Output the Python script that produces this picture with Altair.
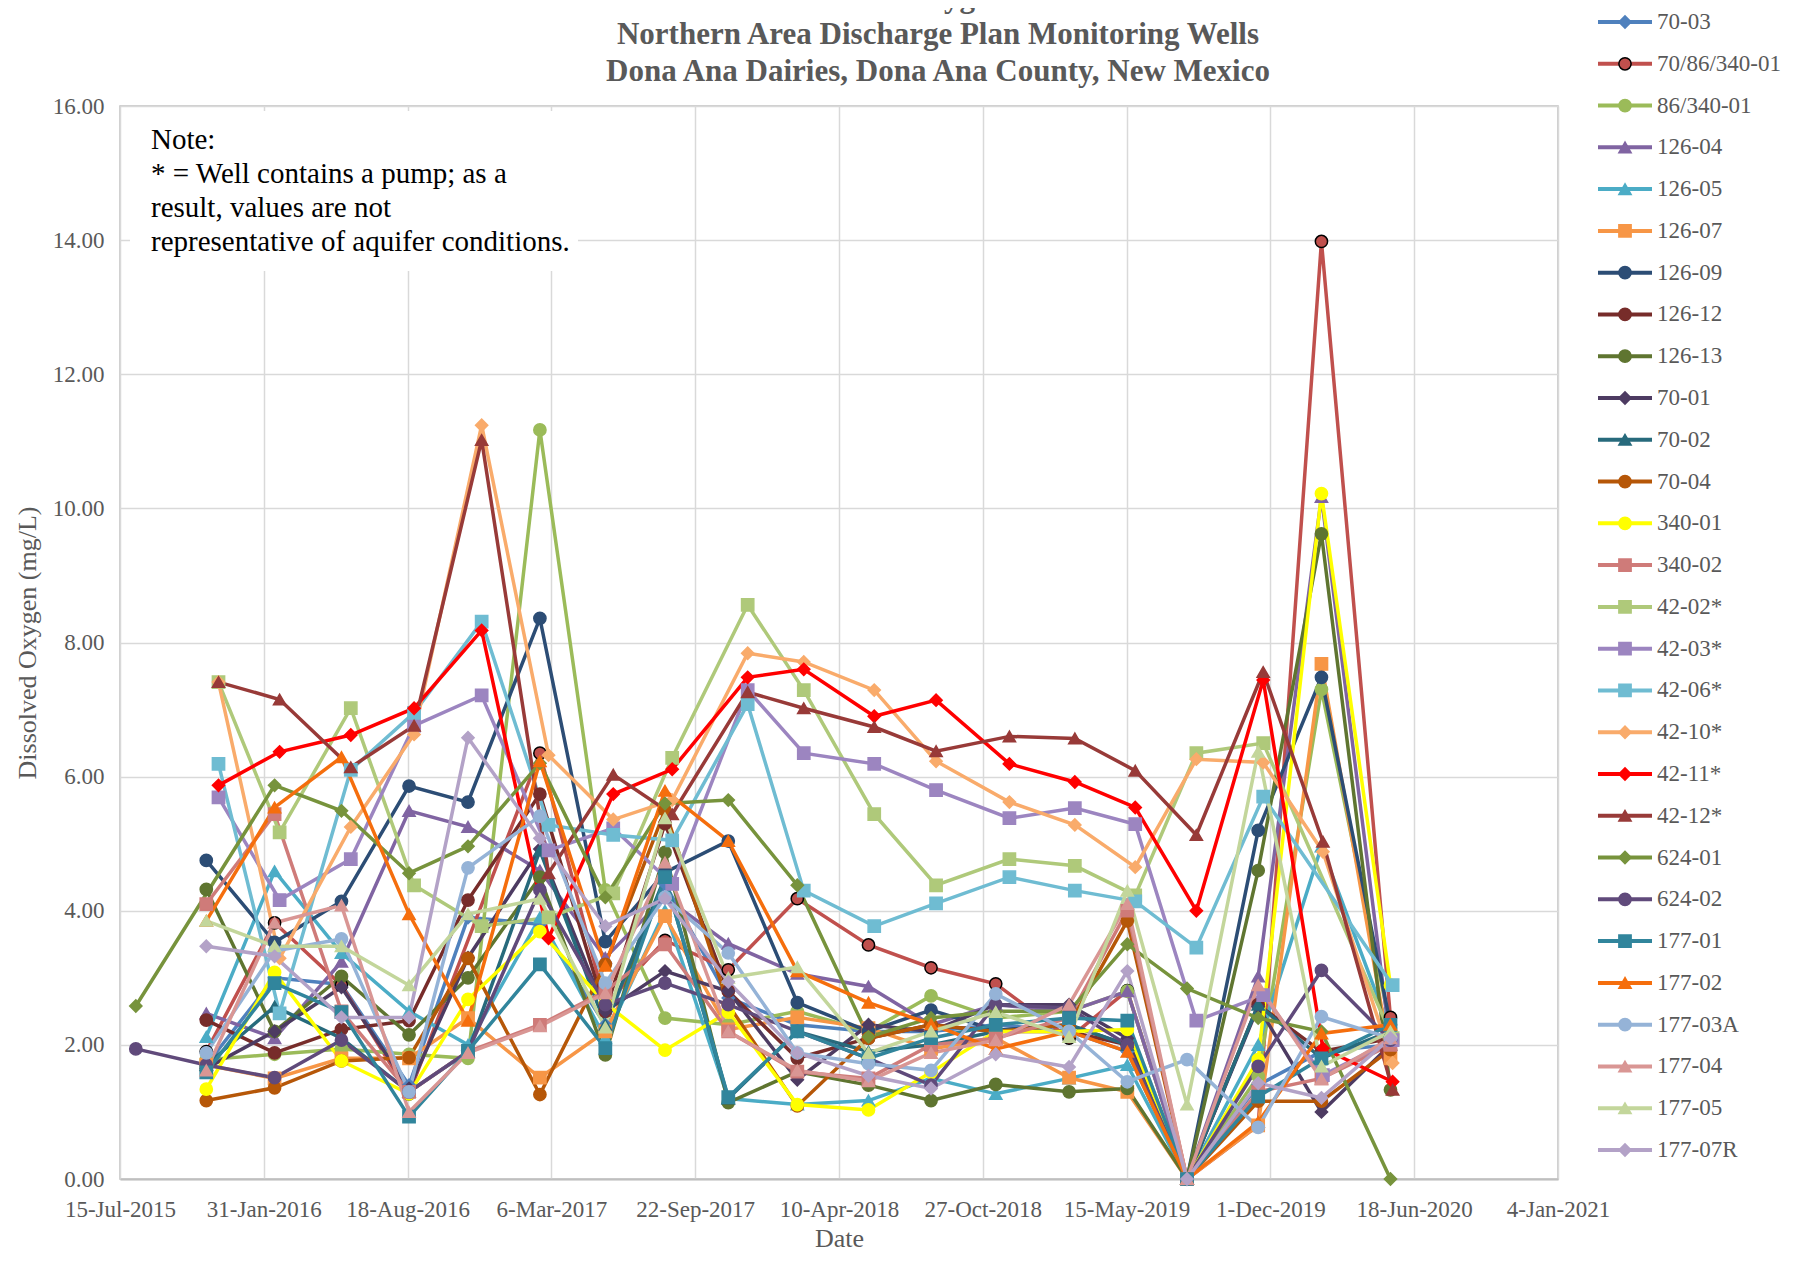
import altair as alt
import pandas as pd

# ---- series names, colours, marker shapes (legend order) ----
names = ["70-03", "70/86/340-01", "86/340-01", "126-04", "126-05", "126-07", "126-09",
         "126-12", "126-13", "70-01", "70-02", "70-04", "340-01", "340-02", "42-02*",
         "42-03*", "42-06*", "42-10*", "42-11*", "42-12*", "624-01", "624-02", "177-01",
         "177-02", "177-03A", "177-04", "177-05", "177-07R"]
colors = ["#4F81BD", "#C0504D", "#9BBB59", "#8064A2", "#4BACC6", "#F79646", "#2C4D75",
          "#772C2A", "#5F7530", "#4D3B62", "#276A7C", "#B65708", "#FFFF00", "#CF7B79", "#AFC97A",
          "#9C85C0", "#6FBCD2", "#F9AB6B", "#FF0000", "#983A38", "#77933C", "#604A7B", "#31859C",
          "#F56E0D", "#95B3D7", "#D99694", "#C3D69B", "#B3A2C7"]
shapes = ["diamond", "circle", "circle", "triangle-up", "triangle-up", "square", "circle",
          "circle", "circle", "diamond", "triangle-up", "circle", "circle", "square", "square",
          "square", "square", "diamond", "diamond", "triangle-up", "diamond", "circle", "square",
          "triangle-up", "circle", "triangle-up", "triangle-up", "diamond"]

# ---- sampling dates ----
dates_std = ["2015-08-06", "2015-11-12", "2016-02-15", "2016-05-18", "2016-08-20", "2016-11-10",
             "2017-02-18", "2017-05-20", "2017-08-11", "2017-11-07", "2018-02-11", "2018-05-21",
             "2018-08-16", "2018-11-14", "2019-02-24", "2019-05-16", "2019-08-07", "2019-11-14",
             "2020-02-10", "2020-05-16"]
dates_pump = ["2015-08-06", "2015-11-29", "2016-02-22", "2016-05-31", "2016-08-27", "2016-11-29",
              "2017-03-02", "2017-05-31", "2017-08-21", "2017-12-04", "2018-02-20", "2018-05-29",
              "2018-08-23", "2018-12-03", "2019-03-04", "2019-05-27", "2019-08-20", "2019-11-21",
              "2020-02-12", "2020-05-19"]

# ---- dissolved oxygen values (mg/L) per well ----
s_70_03 = [None, 1.7, 3.0, 2.9, 1.4, 3.9, 3.8, 2.3, 4.4, 2.7, 2.3, 2.2, 2.2, 2.3, 2.2, 1.9, 0.0, 1.4, 1.9, 2.0]
s_70_86_340_01 = [None, 1.9, 3.82, 2.89, 1.27, None, 6.35, 2.6, 3.56, 3.12, 4.18, 3.49, 3.15, 2.91, 2.1, 2.81, 0.0, 0.8, 13.98, 2.41]
s_86_340_01 = [None, 1.78, 1.86, 1.94, 1.86, 1.8, 11.17, 4.31, 2.4, 2.3, 2.5, 2.2, 2.73, 2.4, 2.5, 2.8, 0.0, 1.53, 7.3, 2.25]
s_126_04 = [None, 2.47, 2.1, 3.24, 5.49, 5.25, 4.6, 3.3, 4.2, 3.51, 3.06, 2.87, 2.3, 2.6, 2.5, 2.8, 0.0, 3.02, 10.17, 2.0]
s_126_05 = [None, 2.12, 4.59, 3.37, 2.5, 2.0, 3.9, 2.1, 4.0, 1.2, 1.11, 1.17, 1.5, 1.27, 1.5, 1.7, 0.0, 2.0, 4.96, 2.2]
s_126_07 = [None, 1.7, 1.5, 1.8, 1.8, 2.4, 1.51, 2.2, 3.92, 2.23, 2.41, 2.25, 1.94, 2.1, 1.51, 1.3, 0.0, 0.8, 7.68, 1.8]
s_126_09 = [None, 4.75, 3.53, 4.14, 5.86, 5.62, 8.36, 3.54, 4.57, 5.04, 2.63, 2.2, 2.52, 2.22, 2.3, 2.0, 0.0, 5.2, 7.48, 2.3]
s_126_12 = [None, 2.37, 1.88, 2.23, 2.36, 4.16, 5.74, 2.5, 5.3, 2.8, 1.8, 2.1, 2.3, 2.2, 2.2, 2.0, 0.0, 2.6, 1.9, 2.1]
s_126_13 = [None, 4.32, 2.2, 3.02, 2.15, 3.0, 4.5, 1.85, 4.87, 1.14, 1.6, 1.4, 1.17, 1.41, 1.3, 1.35, 0.0, 4.6, 9.62, 1.33]
s_70_01 = [None, 1.65, 2.2, 2.86, 1.35, 3.3, 4.92, 2.5, 3.1, 2.8, 1.48, 2.3, 2.2, 2.6, 2.6, 2.1, 0.0, 2.57, 1.0, 2.0]
s_70_02 = [None, 1.7, 2.57, 2.1, 1.3, 1.9, 4.9, 2.3, 4.5, 1.2, 2.2, 1.9, 2.0, 2.2, 2.3, 2.0, 0.0, 2.6, 1.8, 2.2]
s_70_04 = [None, 1.17, 1.36, 1.76, 1.81, 3.29, 1.26, 3.2, 5.5, 2.6, 1.09, 2.1, 2.3, 2.2, 2.3, 3.85, 0.0, 1.16, 1.16, 1.93]
s_340_01 = [None, 1.34, 3.08, 1.76, 1.27, 2.68, 3.69, 2.62, 1.92, 2.49, 1.11, 1.03, 1.59, 2.2, 2.2, 2.23, 0.0, 1.78, 10.22, 2.89]
s_340_02 = [None, 4.1, 5.44, 2.5, 1.3, 1.9, 2.3, 2.8, 3.5, 2.2, 1.6, 1.5, 2.0, 2.1, 2.4, 4.0, 0.0, 1.3, 1.5, 2.0]
s_42_02 = [None, 7.41, 5.17, 7.02, 4.38, 3.77, 3.9, 4.26, 6.28, 8.56, 7.29, 5.44, 4.38, 4.77, 4.67, 4.23, 6.35, 6.5, None, 2.1]
s_42_03 = [None, 5.69, 4.16, 4.77, 6.76, 7.21, 4.9, 5.23, 4.4, 7.29, 6.35, 6.19, 5.8, 5.38, 5.53, 5.29, 2.36, 2.74, 1.55, 2.07]
s_42_06 = [None, 6.19, 2.47, 6.1, 6.95, 8.31, 5.28, 5.13, 5.05, 7.08, 4.3, 3.77, 4.11, 4.5, 4.3, 4.14, 3.45, 5.7, None, 2.89]
s_42_10 = [None, 7.41, 3.29, 5.25, 6.63, 11.24, 6.32, 5.36, 5.65, 7.84, 7.71, 7.29, 6.23, 5.62, 5.28, 4.65, 6.26, 6.21, 4.88, 1.73]
s_42_11 = [None, 5.87, 6.37, 6.62, 7.02, 8.18, 3.59, 5.74, 6.11, 7.48, 7.6, 6.9, 7.14, 6.19, 5.92, 5.54, 4.0, 7.44, 1.95, 1.45]
s_42_12 = [None, 7.41, 7.15, 6.14, 6.76, 11.02, 4.56, 6.03, 5.44, 7.26, 7.02, 6.74, 6.38, 6.6, 6.57, 6.09, 5.13, 7.56, 5.03, 1.33]
s_624_01 = [2.58, None, 5.87, 5.49, 4.56, 4.96, 6.2, 4.2, 5.6, 5.65, 4.38, 2.12, 2.4, 2.5, 2.5, 3.5, 2.84, 2.4, 2.2, 0.0]
s_624_02 = [1.94, 1.7, 1.51, 2.07, 1.3, 1.9, 4.31, 2.6, 2.92, 2.6, 2.2, 1.8, 1.4, 2.6, 2.55, 2.0, 0.0, 1.68, 3.11, 2.07]
s_177_01 = [None, 1.59, 2.92, 2.49, 0.93, 1.91, 3.2, 1.95, 4.5, 1.22, 2.2, 1.8, 2.1, 2.3, 2.4, 2.36, 0.0, 1.23, 1.8, 2.3]
s_177_02 = [None, 3.85, 5.54, 6.29, 3.95, 2.36, 6.23, 3.18, 5.79, 5.04, 3.1, 2.63, 2.31, 1.94, 2.2, 1.9, 0.0, 0.85, 2.17, 2.3]
s_177_03a = [None, 1.88, 3.4, 3.58, 1.3, 4.64, 5.41, 2.92, 4.2, 3.37, 1.88, 1.72, 1.62, 2.76, 2.2, 1.45, 1.78, 0.77, 2.42, 2.1]
s_177_04 = [None, 1.62, 3.82, 4.08, 1.0, 1.88, 2.28, 2.77, 4.72, 2.2, 1.62, 1.46, 1.88, 2.07, 2.6, 4.1, 0.0, 2.89, 1.49, 2.1]
s_177_05 = [None, 3.85, 3.47, 3.47, 2.89, 3.95, 4.18, 2.26, 5.38, 3.0, 3.16, 1.88, 2.2, 2.49, 2.12, 4.3, 1.11, 6.37, 1.68, 2.2]
s_177_07r = [None, 3.47, 3.32, 2.41, 2.41, 6.58, 5.08, 3.77, 4.18, 2.94, 1.88, 1.54, 1.35, 1.86, 1.67, 3.1, 0.0, 1.43, 1.21, 2.1]

series_values = [s_70_03, s_70_86_340_01, s_86_340_01, s_126_04, s_126_05, s_126_07, s_126_09,
                 s_126_12, s_126_13, s_70_01, s_70_02, s_70_04, s_340_01, s_340_02, s_42_02,
                 s_42_03, s_42_06, s_42_10, s_42_11, s_42_12, s_624_01, s_624_02, s_177_01,
                 s_177_02, s_177_03a, s_177_04, s_177_05, s_177_07r]

# ---- axis ticks ----
x_ticks = ["2015-07-15", "2016-01-31", "2016-08-18", "2017-03-06", "2017-09-22", "2018-04-10",
           "2018-10-27", "2019-05-15", "2019-12-01", "2020-06-18", "2021-01-04"]
y_ticks = [0, 2, 4, 6, 8, 10, 12, 14, 16]

title_lines = ["Dissolved Oxygen Trends",
               "Northern Area Discharge Plan Monitoring Wells",
               "Dona Ana Dairies, Dona Ana County, New Mexico"]
note_lines = ["Note:", "* = Well contains a pump; as a", "result, values are not",
              "representative of aquifer conditions."]

# ---- build tables ----
rows = []
for idx, (nm, vals) in enumerate(zip(names, series_values)):
    dl = dates_pump if nm.endswith("*") else dates_std
    for d, v in zip(dl, vals):
        if v is not None:
            rows.append({"series": nm, "date": d, "value": v, "k": idx})
df = pd.DataFrame(rows)
legend_df = pd.DataFrame({"series": names})
one = pd.DataFrame({"k": [0]})


def ms(s):
    return int(pd.Timestamp(s, tz="UTC").value // 10**6)


tick_ms = [ms(t) for t in x_ticks]
stroke_cols = ["#000000" if n == "70/86/340-01" else c for n, c in zip(names, colors)]

FONT = "Liberation Serif"
GRAY = "#595959"

color_scale = alt.Scale(domain=names, range=colors)
shape_scale = alt.Scale(domain=names, range=shapes)
stroke_scale = alt.Scale(domain=names, range=stroke_cols)

x_enc = alt.X("date:T",
              scale=alt.Scale(type="utc", domain=[tick_ms[0], tick_ms[-1]], nice=False),
              axis=alt.Axis(values=tick_ms, labelExpr="utcFormat(datum.value, '%-d-%b-%Y')",
                            title="Date", grid=True, gridColor="#D9D9D9", gridWidth=1.5,
                            domainColor="#BFBFBF", domainWidth=2, ticks=False,
                            labelFont=FONT, labelFontSize=23, labelColor=GRAY, labelPadding=19,
                            labelOverlap=False, labelFlush=False,
                            titleFont=FONT, titleFontSize=26, titleFontWeight="normal",
                            titleColor=GRAY, titlePadding=4))
y_scale = alt.Scale(domain=[0, 16], nice=False)

lines = alt.Chart(df).mark_line(strokeWidth=3.5).encode(
    x=x_enc,
    y=alt.Y("value:Q", scale=y_scale,
            axis=alt.Axis(values=y_ticks, format=".2f", title="Dissolved Oxygen (mg/L)",
                          grid=True, gridColor="#D9D9D9", gridWidth=1.5, domain=False,
                          ticks=False, labelFont=FONT, labelFontSize=23, labelColor=GRAY,
                          labelPadding=16, titleFont=FONT, titleFontSize=26,
                          titleFontWeight="normal", titleColor=GRAY, titlePadding=12)),
    color=alt.Color("series:N", scale=color_scale, legend=None),
    detail="series:N",
    order="date:T",
)

points = alt.Chart(df).mark_point(filled=True, size=150, opacity=1, strokeWidth=1.5).encode(
    x=x_enc,
    y=alt.Y("value:Q", scale=y_scale, axis=None),
    color=alt.Color("series:N", scale=color_scale, legend=None),
    shape=alt.Shape("series:N", scale=shape_scale, legend=None),
    stroke=alt.Stroke("series:N", scale=stroke_scale, legend=None),
    order="k:Q",
)

note_bg = alt.Chart(one).mark_rect(color="white").encode(
    x=alt.value(10), x2=alt.value(458), y=alt.value(5), y2=alt.value(165))
note_txt = alt.Chart(one).mark_text(
    text=note_lines, font=FONT, fontSize=29, color="black", align="left",
    baseline="middle", lineHeight=34).encode(x=alt.value(31), y=alt.value(34))
title_txt = alt.Chart(one).mark_text(
    text=title_lines, font=FONT, fontSize=31, fontWeight="bold", color=GRAY,
    align="center", baseline="middle", lineHeight=37).encode(x=alt.value(818), y=alt.value(-108))

leg_y = alt.Y("series:N", scale=alt.Scale(type="point", domain=names, range=[-84, 1044], padding=0),
              axis=None)
leg_rule = alt.Chart(legend_df).mark_rule(strokeWidth=4).encode(
    x=alt.value(1478), x2=alt.value(1532), y=leg_y,
    color=alt.Color("series:N", scale=color_scale, legend=None))
leg_pt = alt.Chart(legend_df).mark_point(filled=True, size=150, opacity=1, strokeWidth=1.5).encode(
    x=alt.value(1505), y=leg_y,
    color=alt.Color("series:N", scale=color_scale, legend=None),
    shape=alt.Shape("series:N", scale=shape_scale, legend=None),
    stroke=alt.Stroke("series:N", scale=stroke_scale, legend=None))
leg_txt = alt.Chart(legend_df).mark_text(
    font=FONT, fontSize=23, color=GRAY, align="left", baseline="middle").encode(
    x=alt.value(1537), y=leg_y, text="series:N")

chart = alt.layer(note_bg, note_txt, title_txt, lines, points, leg_rule, leg_pt, leg_txt).resolve_scale(
    y="independent"
).properties(
    width=1438, height=1073,
    padding={"left": 112, "top": 98, "right": 233, "bottom": 74},
    autosize=alt.AutoSizeParams(type="none"),
).configure_view(stroke="#BFBFBF", strokeWidth=1.5)

chart.save("out.html", embed_options={"renderer": "svg", "actions": False})
